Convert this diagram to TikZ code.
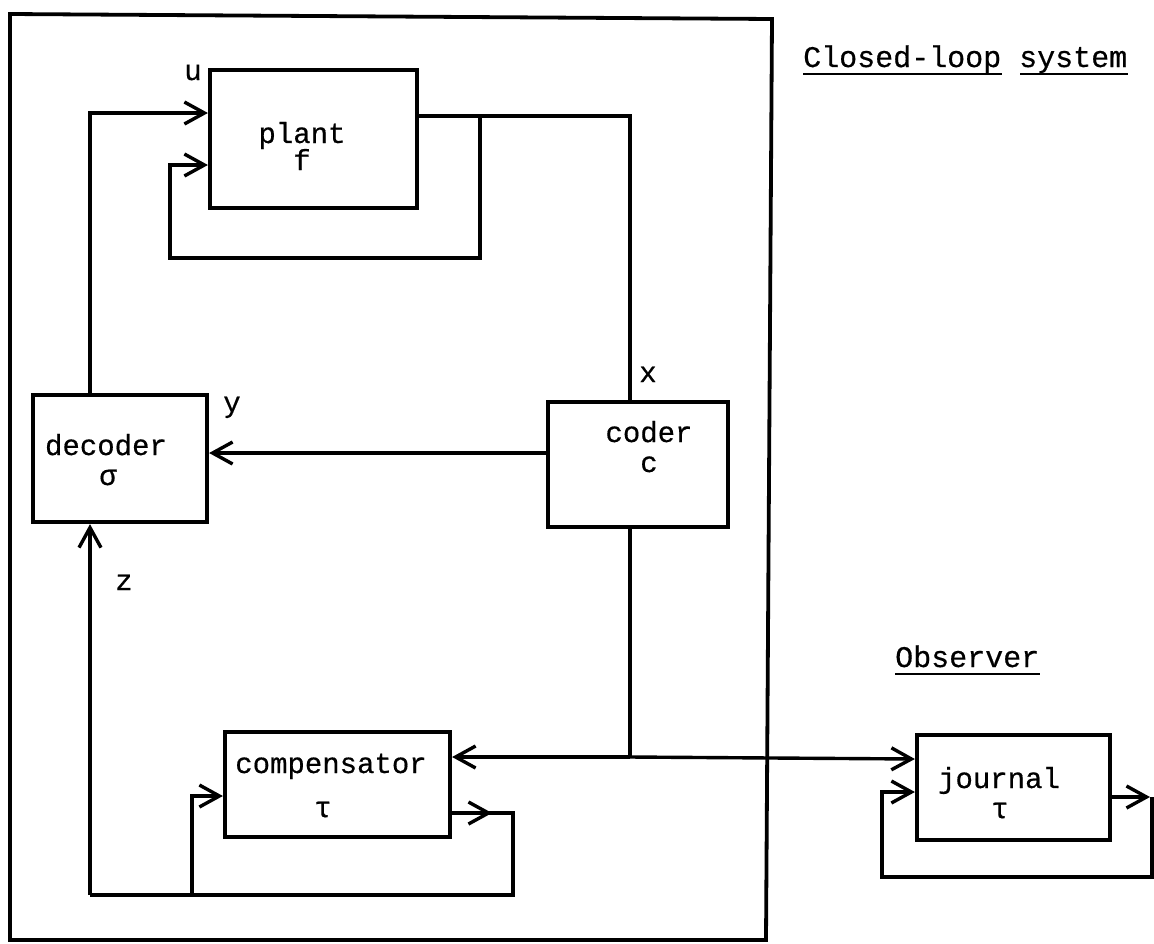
\documentclass[tikz,border=0pt]{standalone}
\usepackage{fontspec}
\setmonofont[FakeBold=0.5]{Liberation Mono}
\usetikzlibrary{arrows.meta}
\begin{document}
\begin{tikzpicture}[x=1pt,y=-1pt,
  box/.style={draw, line width=4.2pt, inner sep=0pt},
  wire/.style={line width=3.4pt},
  arr/.style={wire, -{Straight Barb[length=20pt,width=22pt]}},
  txt/.style={font=\ttfamily\fontsize{29}{34}\selectfont, inner sep=0pt, anchor=base},
  ttl/.style={font=\ttfamily\fontsize{30}{36}\selectfont, inner sep=0pt, anchor=base west},
  uline/.style={line width=2.4pt}]
\useasboundingbox (0,0) rectangle (1154,943);
% frame
\draw[line width=3.8pt] (10,14) -- (772,19) -- (766,940) -- (10,940) -- cycle;
% boxes
\node[box, minimum width=207pt, minimum height=138pt] (plant) at (313.5,139) {};
\node[box, minimum width=174pt, minimum height=127pt] (decoder) at (120,458.5) {};
\node[box, minimum width=180pt, minimum height=125pt] (coder) at (638,464.5) {};
\node[box, minimum width=225pt, minimum height=105pt] (comp) at (337.5,784.5) {};
\node[box, minimum width=193pt, minimum height=105pt] (journal) at (1013.5,787.5) {};
% box texts
\node[txt] (tplant) at (302,143) {plant};
\node[txt] (tf) at (302,170) {f};
\node[txt] (tdec) at (106,455) {decoder};
\node[txt] (tsig) at (108,485) {σ};
\node[txt] (tcod) at (649,442) {coder};
\node[txt] (tc) at (649,472) {c};
\node[txt] (tcomp) at (331,773) {compensator};
\node[txt] (ttau) at (323,817) {τ};
\node[txt] (tjour) at (999,788) {journal};
\node[txt] (ttau2) at (1000,818) {τ};
% signal labels
\node[txt] (lu) at (193,80) {u};
\node[txt] (ly) at (232,412) {y};
\node[txt] (lx) at (648,382) {x};
\node[txt] (lz) at (124,590) {z};
% titles
\node[ttl] (t1) at (803,67) {Closed-loop system};
\draw[uline] (803,74) -- (1002,74);
\draw[uline] (1020,74) -- (1128,74);
\node[ttl] (t2) at (895,667) {Observer};
\draw[uline] (895,674) -- (1040,674);
% coordinates
\coordinate (po) at (480,116);
\coordinate (ptop) at (630,116);
\coordinate (pfb1) at (480,258);
\coordinate (pfb2) at (170,258);
\coordinate (pfb3) at (170,165);
\coordinate (uc) at (90,113);
\coordinate (cj) at (630,757);
\coordinate (cfb1) at (492,813);
\coordinate (cfb2) at (513,813);
\coordinate (cfb3) at (513,895);
\coordinate (zb) at (90,895);
\coordinate (cb) at (192,895);
\coordinate (cbt) at (192,796);
\coordinate (jo) at (1150,797);
\coordinate (jr1) at (1152,797);
\coordinate (jr2) at (1152,877);
\coordinate (jl1) at (882,877);
\coordinate (jl2) at (882,792);
% plant connectors
\draw[wire] (plant.east |- po) -- (ptop) -- (ptop |- coder.north);
\draw[arr] (po) -- (pfb1) -- (pfb2) -- (pfb3) -- (plant.west |- pfb3);
\draw[arr] (decoder.north -| uc) -- (uc) -- (plant.west |- uc);
% coder to decoder
\draw[arr] (coder.west |- 0,453) -- (decoder.east |- 0,453);
% coder down
\draw[wire] (cj |- coder.south) -- (cj);
\draw[arr] (cj) -- (comp.east |- cj);
\draw[arr] (cj) -- (journal.west |- 0,759);
% compensator loop
\draw[wire] (comp.east |- cfb1) -- (cfb2) -- (cfb3) -- (zb);
\draw[arr] (comp.east |- cfb1) -- (cfb1);
\draw[arr] (zb) -- (decoder.south -| zb);
\draw[arr] (cb) -- (cbt) -- (comp.west |- cbt);
% journal loop
\draw[arr] (journal.east |- jo) -- (jo);
\draw[arr] (jr1) -- (jr2) -- (jl1) -- (jl2) -- (journal.west |- jl2);
\end{tikzpicture}
\end{document}
